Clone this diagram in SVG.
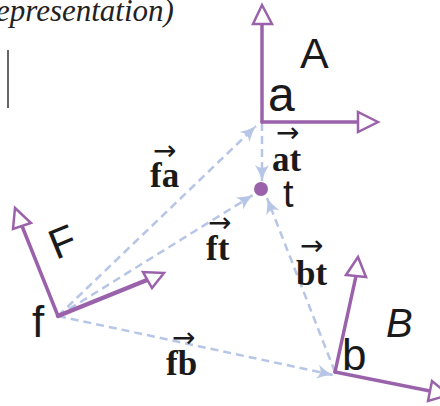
<svg xmlns="http://www.w3.org/2000/svg" width="440" height="406" viewBox="0 0 440 406">
<style>
.ax{stroke:#9a62ab;stroke-width:3.5;fill:none;stroke-linecap:round}
.hd{fill:#fff;stroke:#9a62ab;stroke-width:2.5;stroke-linejoin:miter}
.cn{stroke:#b7c6e6;stroke-width:2.5;fill:none;stroke-dasharray:8 5}
.lb{font-family:"Liberation Sans",Arial,sans-serif;font-size:44px;fill:#1a1a1a}
.vb{font-family:"Liberation Serif","Times New Roman",serif;font-weight:bold;font-size:35px;fill:#1a1a1a}
.ar{font-family:"DejaVu Sans",sans-serif;font-weight:normal;font-size:28px}
</style>
<defs>
<marker id="dh" markerWidth="18" markerHeight="16" refX="16" refY="8" orient="auto" markerUnits="userSpaceOnUse">
<path d="M0,1 Q8,6 16,8 Q8,10 0,15 Q6,8 0,1 Z" fill="#b7c6e6"/>
</marker>
</defs>
<rect width="440" height="406" fill="#fff"/>
<text x="-4" y="21" font-family="Liberation Serif,serif" font-style="italic" font-size="31" fill="#222">epresentation)</text>
<line x1="8" y1="50" x2="8" y2="108" stroke="#333" stroke-width="1.5"/>
<g id="connectors">
<line class="cn" x1="262" y1="123" x2="262" y2="181" marker-end="url(#dh)"/>
<line class="cn" x1="58" y1="316" x2="256" y2="126" marker-end="url(#dh)"/>
<line class="cn" x1="58" y1="316" x2="253" y2="195" marker-end="url(#dh)"/>
<line class="cn" x1="335" y1="372" x2="267" y2="198" marker-end="url(#dh)"/>
<line class="cn" x1="58" y1="316" x2="333" y2="375" marker-end="url(#dh)"/>
</g>
<g id="frameA">
<line class="ax" x1="262" y1="122" x2="262" y2="24"/>
<polygon class="hd" points="262,5 253,24 272,24"/>
<line class="ax" x1="262" y1="122" x2="358" y2="122"/>
<polygon class="hd" points="378,122 358,112 358,132"/>
<text class="lb" x="300" y="68" style="font-size:43px">A</text>
<text class="lb" x="268" y="111" style="font-size:48px">a</text>
</g>
<g id="frameF">
<line class="ax" x1="58" y1="316" x2="22" y2="226"/>
<polygon class="hd" points="15,208 13,229 31,223"/>
<line class="ax" x1="58" y1="316" x2="147" y2="280" style="stroke-width:4.5"/>
<polygon class="hd" points="164,273 143,272 152,288"/>
<text class="lb" transform="translate(56,260) rotate(-22)" style="font-size:42px">F</text>
<text class="lb" x="32" y="337">f</text>
</g>
<g id="frameB">
<line class="ax" x1="335" y1="372" x2="356" y2="276"/>
<polygon class="hd" points="358,257 346,275 366,277"/>
<line class="ax" x1="335" y1="372" x2="430" y2="391"/>
<polygon class="hd" points="449,395 428,401 432,381"/>
<text class="lb" x="386" y="337" font-style="italic" style="font-size:40px">B</text>
<text class="lb" x="342" y="370">b</text>
</g>
<g id="t">
<circle cx="261" cy="189" r="7" fill="#9a62ab"/>
<text class="lb" x="283" y="207" style="font-size:38px">t</text>
</g>
<g id="labels">
<text class="vb"><tspan class="ar" x="276" y="142">→</tspan><tspan x="272" y="171">at</tspan></text>
<text class="vb"><tspan class="ar" x="153" y="160">→</tspan><tspan x="150" y="187">fa</tspan></text>
<text class="vb"><tspan class="ar" x="208" y="232">→</tspan><tspan x="206" y="260">ft</tspan></text>
<text class="vb"><tspan class="ar" x="300" y="255">→</tspan><tspan x="296" y="285">bt</tspan></text>
<text class="vb"><tspan class="ar" x="172" y="347">→</tspan><tspan x="166" y="375">fb</tspan></text>
</g>
</svg>
